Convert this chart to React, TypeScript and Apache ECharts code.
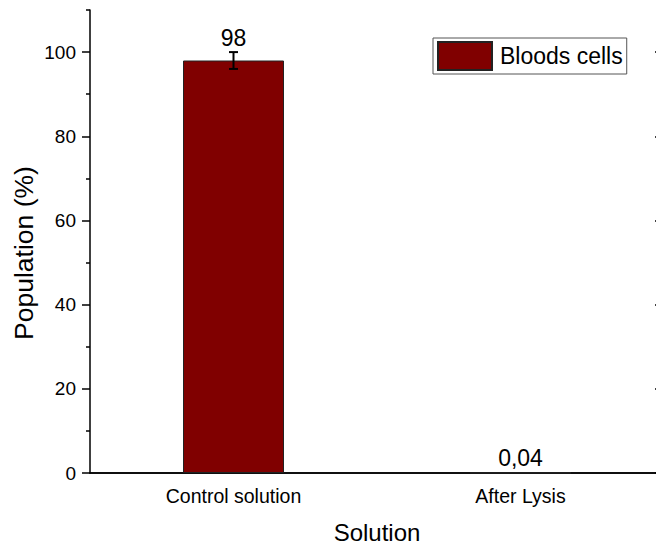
import React, { useEffect, useRef } from "react";
import * as echarts from "echarts";

const categories = ["Control solution", "After Lysis"];
const values = [98, 0.04];
const errors = [2, 0];
const valueLabels = ["98", "0,04"];
const majorTicks = [0, 20, 40, 60, 80, 100];
const minorTicks = [10, 30, 50, 70, 90, 110];
const seriesName = "Bloods cells";
const xTitle = "Solution";
const yTitle = "Population (%)";

const FONT = "Liberation Sans, Arial, Helvetica, sans-serif";

export default function App() {
  const ref = useRef<HTMLDivElement>(null);
  useEffect(() => {
    if (!ref.current) return;
    const chart = echarts.init(ref.current, undefined, { renderer: "svg" });
    const yBase = { type: "value", min: 0, max: 110, splitLine: { show: false } };
    chart.setOption({
      animation: false,
      backgroundColor: "#ffffff",
      textStyle: { fontFamily: FONT },
      grid: { left: 90, top: 10, right: 16, bottom: 71, containLabel: false },
      legend: {
        data: [seriesName],
        left: 433,
        top: 38,
        orient: "vertical",
        icon: "rect",
        itemWidth: 54,
        itemHeight: 28,
        padding: [3, 4, 3, 4],
        borderColor: "#555555",
        borderWidth: 1,
        backgroundColor: "#ffffff",
        textStyle: { fontSize: 23, color: "#000", fontFamily: FONT, padding: [0, 0, 0, 3] },
      },
      xAxis: [
        {
          type: "category",
          data: categories,
          position: "bottom",
          axisLine: { lineStyle: { color: "#000", width: 1.5 } },
          axisTick: { alignWithLabel: true, length: 8, lineStyle: { color: "#000", width: 1.5 } },
          axisLabel: { fontSize: 19.5, color: "#000", margin: 13, fontFamily: FONT },
        },
        {
          type: "category",
          data: categories,
          position: "top",
          axisLine: { lineStyle: { color: "#000", width: 1.5 } },
          axisTick: { alignWithLabel: true, inside: true, length: 8, lineStyle: { color: "#000", width: 1.5 } },
          axisLabel: { show: false },
        },
      ],
      yAxis: [
        {
          ...yBase,
          position: "left",
          axisLine: { show: true, lineStyle: { color: "#000", width: 1.5 } },
          axisTick: { show: true, length: 8, customValues: majorTicks, lineStyle: { color: "#000", width: 1.5 } },
          axisLabel: { fontSize: 19, color: "#000", margin: 14, customValues: majorTicks, fontFamily: FONT },
        },
        {
          ...yBase,
          position: "left",
          axisLine: { show: false },
          axisTick: { show: true, length: 4, customValues: minorTicks, lineStyle: { color: "#000", width: 1.5 } },
          axisLabel: { show: false },
        },
        {
          ...yBase,
          position: "right",
          axisLine: { show: true, lineStyle: { color: "#000", width: 1.5 } },
          axisTick: { show: true, inside: true, length: 9, customValues: majorTicks, lineStyle: { color: "#000", width: 1.5 } },
          axisLabel: { show: false },
        },
      ],
      series: [
        {
          name: seriesName,
          type: "bar",
          data: values,
          barWidth: 101,
          itemStyle: { color: "#800000", borderColor: "#222222", borderWidth: 1 },
        },
        {
          type: "custom",
          data: values.map((v, i) => [i, v, errors[i]]),
          z: 5,
          renderItem: (params: any, api: any) => {
            const i = api.value(0);
            const v = api.value(1);
            const e = api.value(2);
            const top = api.coord([i, v + e]);
            const bot = api.coord([i, v - e]);
            const children: any[] = [];
            const ls = { stroke: "#000", lineWidth: 2 };
            if (e > 0) {
              children.push({ type: "line", shape: { x1: top[0], y1: top[1], x2: bot[0], y2: bot[1] }, style: ls });
              children.push({ type: "line", shape: { x1: top[0] - 4.5, y1: top[1], x2: top[0] + 4.5, y2: top[1] }, style: ls });
              children.push({ type: "line", shape: { x1: bot[0] - 4.5, y1: bot[1], x2: bot[0] + 4.5, y2: bot[1] }, style: ls });
            }
            children.push({
              type: "text",
              x: top[0],
              y: top[1] - 3,
              style: {
                text: valueLabels[params.dataIndex],
                fontSize: 23,
                fontFamily: FONT,
                fill: "#000",
                align: "center",
                verticalAlign: "bottom",
              },
            });
            return { type: "group", children };
          },
        },
      ],
      graphic: [
        {
          type: "text",
          x: 377,
          y: 532,
          style: { text: xTitle, fontSize: 24, fontFamily: FONT, fill: "#000", align: "center", verticalAlign: "middle" },
        },
        {
          type: "text",
          x: 24,
          y: 253,
          rotation: Math.PI / 2,
          style: { text: yTitle, fontSize: 26.5, fontFamily: FONT, fill: "#000", align: "center", verticalAlign: "middle" },
        },
      ],
    });
    return () => chart.dispose();
  }, []);
  return (
    <div
      ref={ref}
      style={{ position: "fixed", left: 0, top: 0, width: 680, height: 544, background: "#fff" }}
    />
  );
}
